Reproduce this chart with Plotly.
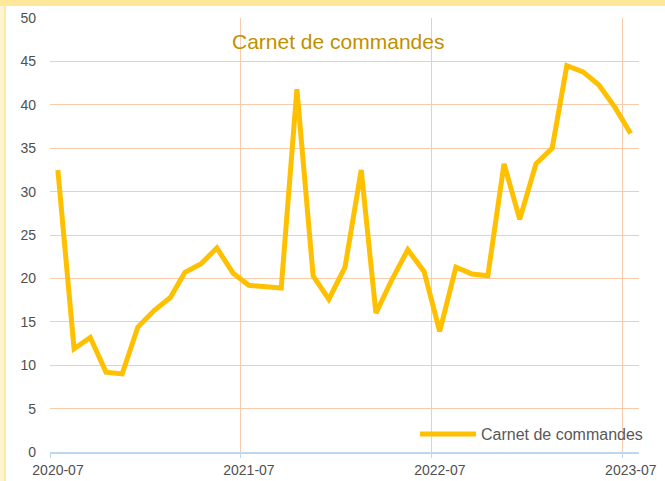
import pandas as pd
import plotly.graph_objects as go

# Monthly order backlog, July 2020 - July 2023
months = [
    "2020-07", "2020-08", "2020-09", "2020-10", "2020-11", "2020-12",
    "2021-01", "2021-02", "2021-03", "2021-04", "2021-05", "2021-06",
    "2021-07", "2021-08", "2021-09", "2021-10", "2021-11", "2021-12",
    "2022-01", "2022-02", "2022-03", "2022-04", "2022-05", "2022-06",
    "2022-07", "2022-08", "2022-09", "2022-10", "2022-11", "2022-12",
    "2023-01", "2023-02", "2023-03", "2023-04", "2023-05", "2023-06",
    "2023-07",
]
carnet = [
    32.5, 11.9, 13.2, 9.2, 9.0, 14.4,
    16.3, 17.8, 20.7, 21.7, 23.5, 20.6,
    19.2, 19.0, 18.9, 41.8, 20.3, 17.6,
    21.3, 32.5, 16.0, 19.9, 23.3, 20.8,
    13.9, 21.3, 20.5, 20.3, 33.2, 26.8,
    33.2, 35.0, 44.5, 43.8, 42.3, 39.7,
    36.7,
]
year_ticks = ["2020-07", "2021-07", "2022-07", "2023-07"]
y_ticks = [0, 5, 10, 15, 20, 25, 30, 35, 40, 45, 50]

# each monthly value sits in the middle of its month
x_pos = pd.to_datetime(months) + pd.Timedelta(days=15)

FONT = "Liberation Sans, Arial, sans-serif"
W, H = 665, 481
ML, MR, MT, MB = 50, 26, 18, 29
PW, PH = W - ML - MR, H - MT - MB


def px_x(p):
    return (p - ML) / PW


def px_y(p):
    return (H - MB - p) / PH


fig = go.Figure()
fig.add_trace(go.Scatter(
    x=x_pos, y=carnet, mode="lines", name="Carnet de commandes",
    line=dict(color="#FFC000", width=5),
))

fig.update_layout(
    width=W, height=H,
    margin=dict(l=ML, r=MR, t=MT, b=MB, autoexpand=False),
    paper_bgcolor="white", plot_bgcolor="white",
    font=dict(family=FONT, size=14, color="#595959"),
    showlegend=True,
    legend=dict(
        x=px_x(648), xanchor="right", y=px_y(434), yanchor="middle",
        bgcolor="rgba(0,0,0,0)", font=dict(size=16, color="#595959"),
        itemwidth=56,
    ),
    xaxis=dict(
        type="date", automargin=False,
        range=["2020-07-01", "2023-08-01"],
        tickvals=pd.to_datetime(year_ticks), ticktext=year_ticks,
        ticklabelshift=8,
        showgrid=True, gridcolor="#F8CBAD", gridwidth=1.2,
        showline=True, linecolor="#BDD7EE", linewidth=1.5,
        ticks="outside", ticklen=4, tickcolor="#BDD7EE",
        tickfont=dict(size=14, color="#505050"),
        zeroline=False,
    ),
    yaxis=dict(
        automargin=False,
        range=[0, 50], tickvals=y_ticks,
        showgrid=True, gridcolor="#F8CBAD", gridwidth=1.2,
        showline=False, zeroline=False,
        ticks="", ticklabelstandoff=13,
        tickfont=dict(size=14, color="#505050"),
    ),
    annotations=[dict(
        text="Carnet de commandes", xref="paper", yref="paper",
        x=px_x(338), y=px_y(41), xanchor="center", yanchor="middle",
        showarrow=False, font=dict(size=21, color="#BF9000", family=FONT),
    )],
    shapes=[
        dict(type="rect", xref="paper", yref="paper", layer="below",
             x0=px_x(0), x1=px_x(W), y0=px_y(6), y1=px_y(0),
             line=dict(width=0), fillcolor="#FFE89A"),
        dict(type="rect", xref="paper", yref="paper", layer="below",
             x0=px_x(0), x1=px_x(4), y0=px_y(H), y1=px_y(6),
             line=dict(width=0), fillcolor="#FFF4D0"),
        dict(type="rect", xref="paper", yref="paper", layer="below",
             x0=px_x(4), x1=px_x(6), y0=px_y(H), y1=px_y(6),
             line=dict(width=0), fillcolor="#FFE9A8"),
    ],
)

fig.write_html("out.html")
